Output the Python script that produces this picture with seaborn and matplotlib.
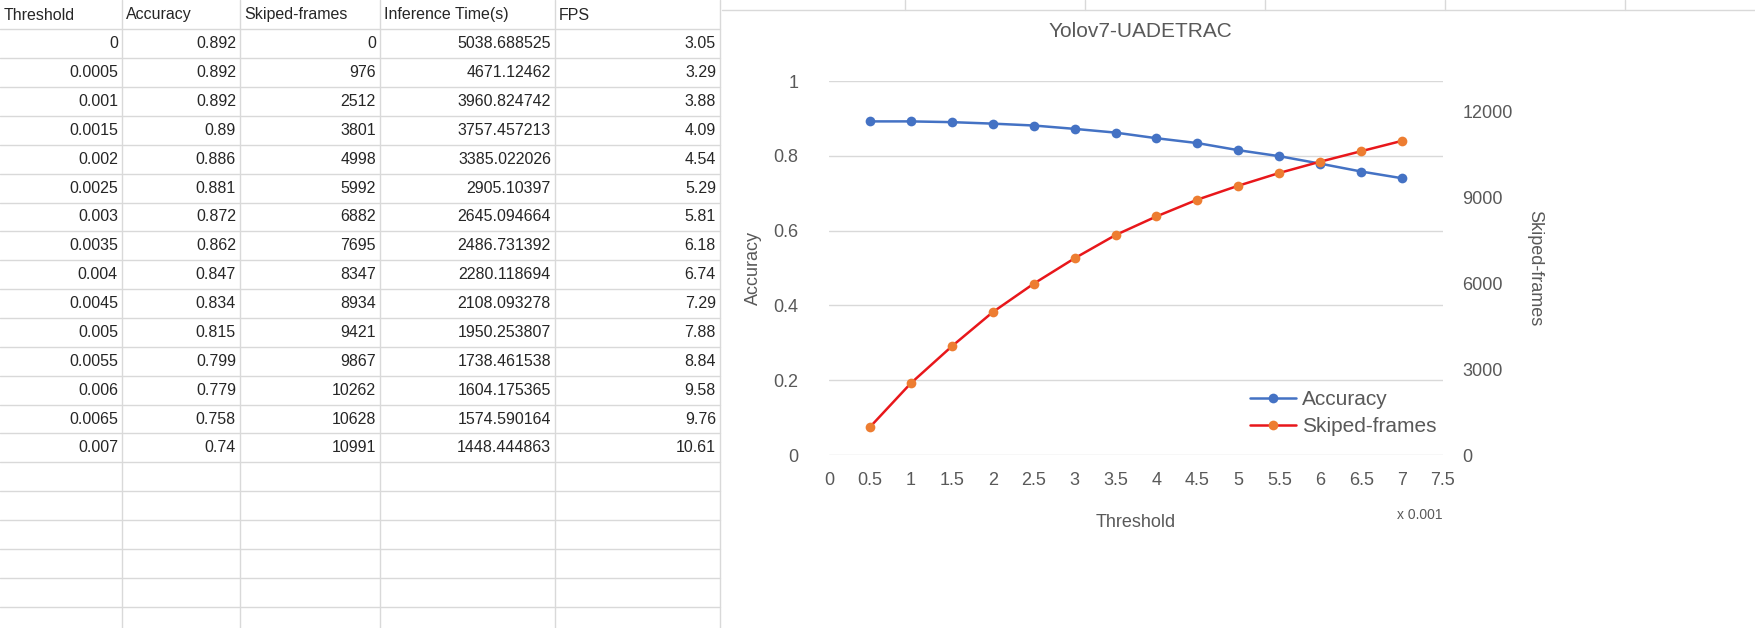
import numpy as np
import pandas as pd
import seaborn as sns
import matplotlib.pyplot as plt
from matplotlib.lines import Line2D

threshold = ['0', '0.0005', '0.001', '0.0015', '0.002', '0.0025', '0.003', '0.0035',
             '0.004', '0.0045', '0.005', '0.0055', '0.006', '0.0065', '0.007']
accuracy = ['0.892', '0.892', '0.892', '0.89', '0.886', '0.881', '0.872', '0.862',
            '0.847', '0.834', '0.815', '0.799', '0.779', '0.758', '0.74']
skipped = ['0', '976', '2512', '3801', '4998', '5992', '6882', '7695', '8347', '8934',
           '9421', '9867', '10262', '10628', '10991']
inference = ['5038.688525', '4671.12462', '3960.824742', '3757.457213', '3385.022026',
             '2905.10397', '2645.094664', '2486.731392', '2280.118694', '2108.093278',
             '1950.253807', '1738.461538', '1604.175365', '1574.590164', '1448.444863']
fps = ['3.05', '3.29', '3.88', '4.09', '4.54', '5.29', '5.81', '6.18', '6.74', '7.29',
       '7.88', '8.84', '9.58', '9.76', '10.61']
headers = ['Threshold', 'Accuracy', 'Skiped-frames', 'Inference Time(s)', 'FPS']

W, H = 1756, 628
sns.set_style("white")
plt.rcParams['font.family'] = ['Liberation Sans', 'DejaVu Sans']
fig = plt.figure(figsize=(W / 100, H / 100), dpi=100)


def fx(px):
    return px / W


def fy(py):
    return 1 - py / H


# spreadsheet part
col_edges = [0, 122, 240, 380, 555, 720]
row_h = 28.86
row_top = 29.4
grid_c = '#d9d9d9'
for x in col_edges[1:]:
    fig.add_artist(Line2D([fx(x), fx(x)], [0, 1], color=grid_c, lw=1))
y = row_top
while y < H:
    fig.add_artist(Line2D([0, fx(720)], [fy(y), fy(y)], color=grid_c, lw=1))
    y += row_h
for x in [905, 1085, 1265, 1445, 1625]:
    fig.add_artist(Line2D([fx(x), fx(x)], [fy(0), fy(10)], color=grid_c, lw=1))
fig.add_artist(Line2D([fx(722), fx(W)], [fy(10), fy(10)], color=grid_c, lw=1))

fs = 11.5
for j, h in enumerate(headers):
    fig.text(fx(col_edges[j] + 4), fy(15), h, fontsize=fs, va='center', ha='left')
cols = [threshold, accuracy, skipped, inference, fps]
for i in range(len(threshold)):
    yc = row_top + row_h * (i + 0.5)
    for j, col in enumerate(cols):
        fig.text(fx(col_edges[j + 1] - 4), fy(yc), col[i], fontsize=fs,
                 va='center', ha='right')

# chart part
df = pd.DataFrame({
    'Threshold': [float(t) * 1000 for t in threshold],
    'Accuracy': [float(a) for a in accuracy],
    'Skiped-frames': [float(s) for s in skipped],
}).iloc[1:]

ax = fig.add_axes([fx(829), fy(455), fx(1443) - fx(829), fy(81) - fy(455)])
ax2 = ax.twinx()
blue, red, orange = '#4472C4', '#E8171B', '#ED7D31'
sns.lineplot(data=df, x='Threshold', y='Accuracy', ax=ax, color=blue, lw=1.8,
             marker='o', markersize=7, markeredgewidth=0, label='Accuracy', legend=False)
sns.lineplot(data=df, x='Threshold', y='Skiped-frames', ax=ax2, color=red, lw=1.8,
             marker='o', markersize=7, markerfacecolor=orange, markeredgewidth=0,
             label='Skiped-frames', legend=False)
ax.set_xlim(0, 7.5)
ax.set_ylim(0, 1)
ax2.set_ylim(0, 12000 * 374 / 343)
ax.set_xticks(np.arange(0, 7.6, 0.5))
ax.set_xticklabels([f'{v:g}' for v in np.arange(0, 7.6, 0.5)])
ax.set_yticks([0, 0.2, 0.4, 0.6, 0.8, 1])
ax.set_yticklabels(['0', '0.2', '0.4', '0.6', '0.8', '1'])
ax2.set_yticks([0, 3000, 6000, 9000, 12000])
ax.yaxis.grid(True, color='#d9d9d9', lw=1)
for a in (ax, ax2):
    for s in a.spines.values():
        s.set_visible(False)
    a.tick_params(length=0, labelsize=13, colors='#595959')
ax.tick_params(axis='x', pad=12)
ax.tick_params(axis='y', pad=22)
ax2.tick_params(axis='y', pad=14)
ax.set_xlabel('Threshold', fontsize=13, color='#595959', labelpad=18)
ax.set_ylabel('Accuracy', fontsize=13, color='#595959', labelpad=8)
ax2.set_ylabel('Skiped-frames', fontsize=13, color='#595959', rotation=270, labelpad=22)
ax.set_title('Yolov7-UADETRAC', fontsize=15, color='#595959', pad=32,
             x=(1140 - 829) / (1443 - 829))
fig.text(fx(1420), fy(515), 'x 0.001', fontsize=10, color='#595959', ha='center', va='center')

handles = ax.get_lines()[:1] + ax2.get_lines()[:1]
leg = ax.legend(handles, ['Accuracy', 'Skiped-frames'], loc='lower right',
                bbox_to_anchor=(1.02, 0.0), frameon=False, fontsize=15,
                handlelength=2.2, handletextpad=0.3, labelspacing=0.4)
for t in leg.get_texts():
    t.set_color('#595959')

fig.savefig('out.png', dpi=100)
